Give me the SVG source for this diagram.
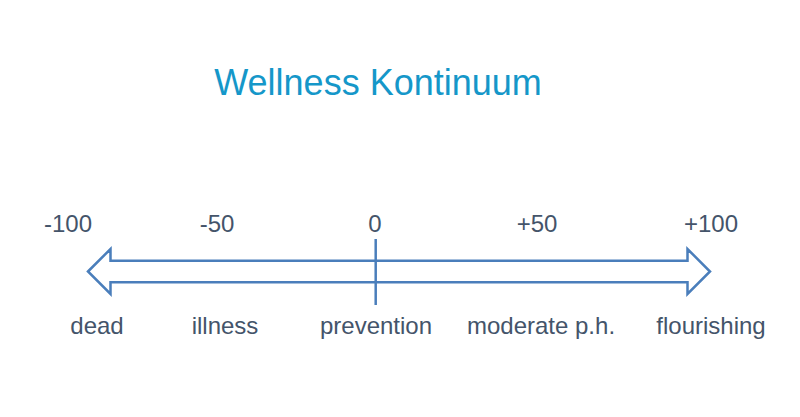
<svg xmlns="http://www.w3.org/2000/svg" width="800" height="417" viewBox="0 0 800 417">
<style>
.lbl{font-family:"Liberation Sans",Arial,sans-serif;font-size:24px;fill:#44546A;text-anchor:middle}
.title{font-family:"Liberation Sans",Arial,sans-serif;font-size:36px;fill:#1597C9;text-anchor:middle}
.ln{fill:none;stroke:#4A7EBB;stroke-width:2.5;stroke-linejoin:miter}
</style>
<rect width="800" height="417" fill="#FFFFFF"/>
<g id="title"><text class="title" x="378" y="95">Wellness Kontinuum</text></g>
<g id="connectors">
<path class="ln" d="M88,271.5 L110.5,249 L110.5,260.7 L687.5,260.7 L687.5,249 L710,271.5 L687.5,294 L687.5,282.3 L110.5,282.3 L110.5,294 Z"/>
<line class="ln" x1="375.7" y1="239" x2="375.7" y2="305"/>
</g>
<g id="scale">
<text class="lbl" x="68" y="232">-100</text>
<text class="lbl" x="217" y="232">-50</text>
<text class="lbl" x="375" y="232">0</text>
<text class="lbl" x="537" y="232">+50</text>
<text class="lbl" x="711" y="232">+100</text>
</g>
<g id="states">
<text class="lbl" x="97" y="334">dead</text>
<text class="lbl" x="225" y="334">illness</text>
<text class="lbl" x="376" y="334">prevention</text>
<text class="lbl" x="541" y="334">moderate p.h.</text>
<text class="lbl" x="711" y="334">flourishing</text>
</g>
</svg>
